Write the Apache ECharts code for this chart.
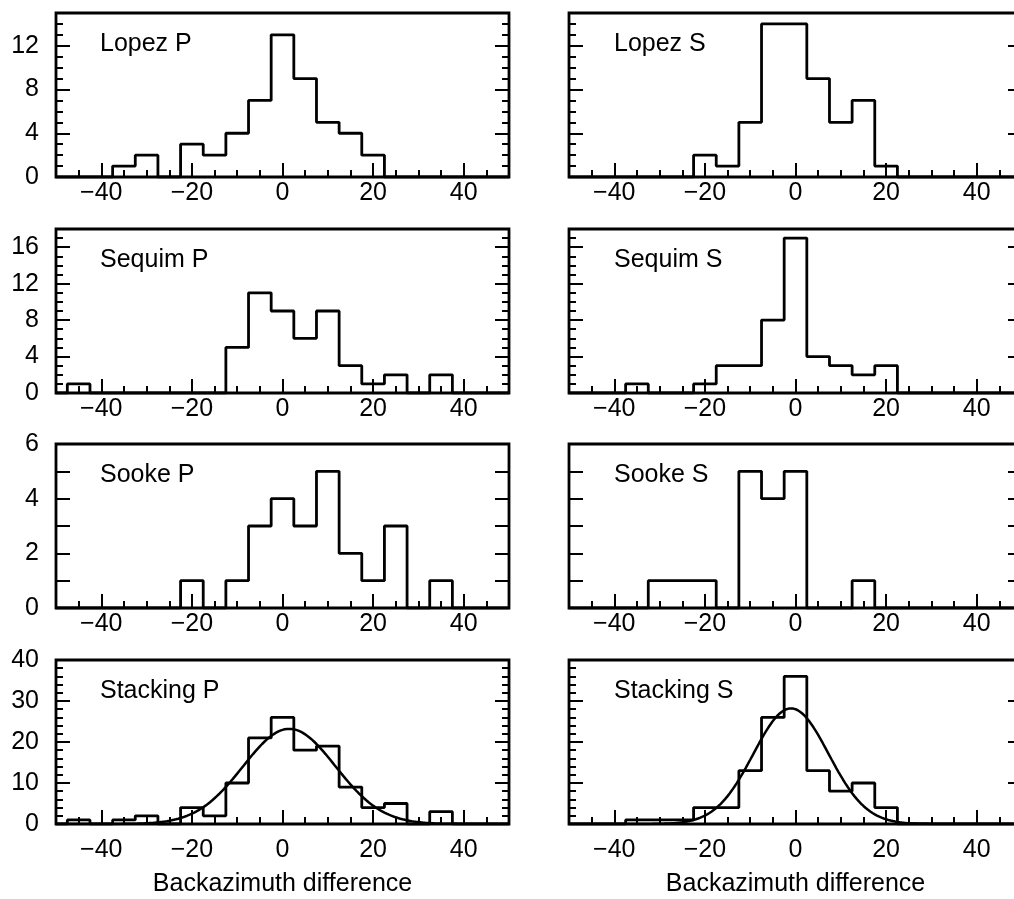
<!DOCTYPE html>
<html>
<head>
<meta charset="utf-8">
<script src="https://cdn.jsdelivr.net/npm/echarts@6/dist/echarts.min.js"></script>
<style>
  html, body { margin: 0; padding: 0; background: #fff; }
  #chart { width: 1014px; height: 899px; }
</style>
</head>
<body>
<div id="chart"></div>
<script>
// Backazimuth difference histograms, 5-degree bins
const binCenters = [-45, -40, -35, -30, -25, -20, -15, -10, -5, 0, 5, 10, 15, 20, 25, 30, 35, 40, 45];
const binWidth = 5;

const lopezP    = [0, 0, 1, 2, 0, 3, 2, 4, 7, 13, 9, 5, 4, 2, 0, 0, 0, 0, 0];
const lopezS    = [0, 0, 0, 0, 0, 2, 1, 5, 14, 14, 9, 5, 7, 1, 0, 0, 0, 0, 0];
const sequimP   = [1, 0, 0, 0, 0, 0, 0, 5, 11, 9, 6, 9, 3, 1, 2, 0, 2, 0, 0];
const sequimS   = [0, 0, 1, 0, 0, 1, 3, 3, 8, 17, 4, 3, 2, 3, 0, 0, 0, 0, 0];
const sookeP    = [0, 0, 0, 0, 0, 1, 0, 1, 3, 4, 3, 5, 2, 1, 3, 0, 1, 0, 0];
const sookeS    = [0, 0, 0, 1, 1, 1, 0, 5, 4, 5, 0, 0, 1, 0, 0, 0, 0, 0, 0];
const stackingP = [1, 0, 1, 2, 0, 4, 2, 10, 21, 26, 18, 19, 9, 4, 5, 0, 3, 0, 0];
const stackingS = [0, 0, 1, 1, 1, 4, 4, 13, 26, 36, 13, 8, 10, 4, 0, 0, 0, 0, 0];

// Gaussian fits drawn over the stacked histograms
const fitP = { mean: 1.5, sigma: 10.2, amp: 23.2 };
const fitS = { mean: -1.0, sigma: 8.3, amp: 28.2 };

// Tick labels
const xTickLabels   = [-40, -20, 0, 20, 40];
const yTicksLopez   = [0, 4, 8, 12];
const yTicksSequim  = [0, 4, 8, 12, 16];
const yTicksSooke   = [0, 2, 4, 6];
const yTicksStack   = [0, 10, 20, 30, 40];

const FONT = '"Liberation Sans", Arial, Helvetica, sans-serif';
const X_MIN = -50, X_MAX = 50;

// Panel layout: two columns, four rows (right column runs past the page edge)
const colLeft = [56, 569];
const colWidth = 453;
const rowTop = [13, 229, 444, 660];
const rowHeight = 164;

const panels = [
  { title: 'Lopez P',    counts: lopezP,    yMax: 15, major: 4,  minor: 1, ticks: yTicksLopez,  row: 0, col: 0 },
  { title: 'Lopez S',    counts: lopezS,    yMax: 15, major: 4,  minor: 1, ticks: yTicksLopez,  row: 0, col: 1 },
  { title: 'Sequim P',   counts: sequimP,   yMax: 18, major: 4,  minor: 1, ticks: yTicksSequim, row: 1, col: 0 },
  { title: 'Sequim S',   counts: sequimS,   yMax: 18, major: 4,  minor: 1, ticks: yTicksSequim, row: 1, col: 1 },
  { title: 'Sooke P',    counts: sookeP,    yMax: 6,  major: 1,  minor: 0, ticks: yTicksSooke,  row: 2, col: 0 },
  { title: 'Sooke S',    counts: sookeS,    yMax: 6,  major: 1,  minor: 0, ticks: yTicksSooke,  row: 2, col: 1 },
  { title: 'Stacking P', counts: stackingP, yMax: 40, major: 10, minor: 2, ticks: yTicksStack,  row: 3, col: 0, fit: fitP },
  { title: 'Stacking S', counts: stackingS, yMax: 40, major: 10, minor: 2, ticks: yTicksStack,  row: 3, col: 1, fit: fitS }
];

// Outline of a histogram as a stepped polyline through the bin edges
function histogramOutline(counts) {
  const pts = [[X_MIN, 0]];
  counts.forEach((c, i) => pts.push([binCenters[i] - binWidth / 2, c]));
  const lastEdge = binCenters[binCenters.length - 1] + binWidth / 2;
  pts.push([lastEdge, 0]);
  pts.push([X_MAX, 0]);
  return pts;
}

function gaussianCurve(fit) {
  const pts = [];
  for (let x = X_MIN; x <= X_MAX; x += 0.5) {
    const z = (x - fit.mean) / fit.sigma;
    pts.push([x, fit.amp * Math.exp(-0.5 * z * z)]);
  }
  return pts;
}

const minusSign = v => String(v).replace('-', '\u2212');

const grid = [], xAxis = [], yAxis = [], series = [], graphic = [];
const tickStyle = { color: '#000', width: 2 };
const labelStyle = { color: '#000', fontSize: 25, fontFamily: FONT };
const hiddenLine = { show: false, onZero: false };

panels.forEach((p, i) => {
  grid.push({
    left: colLeft[p.col], top: rowTop[p.row], width: colWidth, height: rowHeight,
    outerBoundsMode: 'none', containLabel: false,
    show: true, borderColor: '#000', borderWidth: 2.8, backgroundColor: 'transparent'
  });

  const xMajorIdx = xAxis.length;
  const isBottom = p.row === 3;
  xAxis.push({
    type: 'value', gridIndex: i, min: X_MIN, max: X_MAX, splitNumber: 5, position: 'bottom',
    axisLine: hiddenLine, splitLine: { show: false },
    axisTick: { inside: true, length: 14, lineStyle: tickStyle },
    axisLabel: Object.assign({
      margin: isBottom ? 14 : 4,
      formatter: v => xTickLabels.includes(v) ? minusSign(v) : ''
    }, labelStyle),
    name: isBottom ? 'Backazimuth difference' : '',
    nameLocation: 'middle', nameGap: 48,
    nameTextStyle: labelStyle
  });
  xAxis.push({
    type: 'value', gridIndex: i, min: X_MIN, max: X_MAX, interval: 5, position: 'bottom',
    axisLine: hiddenLine, splitLine: { show: false },
    axisTick: { inside: true, length: 7, lineStyle: tickStyle },
    axisLabel: { show: false }
  });

  const yMajorIdx = yAxis.length;
  ['left', 'right'].forEach(side => {
    yAxis.push({
      type: 'value', gridIndex: i, min: 0, max: p.yMax, interval: p.major, position: side,
      axisLine: hiddenLine, splitLine: { show: false },
      axisTick: { inside: true, length: 14, lineStyle: tickStyle },
      axisLabel: Object.assign({
        show: side === 'left' && p.col === 0, margin: 17,
        formatter: v => p.ticks.includes(v) ? String(v) : ''
      }, labelStyle)
    });
    if (p.minor) {
      yAxis.push({
        type: 'value', gridIndex: i, min: 0, max: p.yMax, interval: p.minor, position: side,
        axisLine: hiddenLine, splitLine: { show: false },
        axisTick: { inside: true, length: 7, lineStyle: tickStyle },
        axisLabel: { show: false }
      });
    }
  });

  series.push({
    type: 'line', xAxisIndex: xMajorIdx, yAxisIndex: yMajorIdx,
    step: 'end', data: histogramOutline(p.counts),
    showSymbol: false, silent: true, clip: true,
    lineStyle: { color: '#000', width: 2.8 }
  });
  if (p.fit) {
    series.push({
      type: 'line', xAxisIndex: xMajorIdx, yAxisIndex: yMajorIdx,
      data: gaussianCurve(p.fit), smooth: false,
      showSymbol: false, silent: true, clip: true,
      lineStyle: { color: '#000', width: 2.5 }
    });
  }

  graphic.push({
    type: 'text',
    x: colLeft[p.col] + (p.col === 0 ? 44 : 45),
    y: rowTop[p.row] + 31,
    style: { text: p.title, fill: '#000', font: '25px ' + FONT, verticalAlign: 'middle', textVerticalAlign: 'middle' }
  });
});

const chart = echarts.init(document.getElementById('chart'), null, { renderer: 'canvas' });
chart.setOption({ animation: false, backgroundColor: '#fff', grid, xAxis, yAxis, series, graphic });
</script>
</body>
</html>
